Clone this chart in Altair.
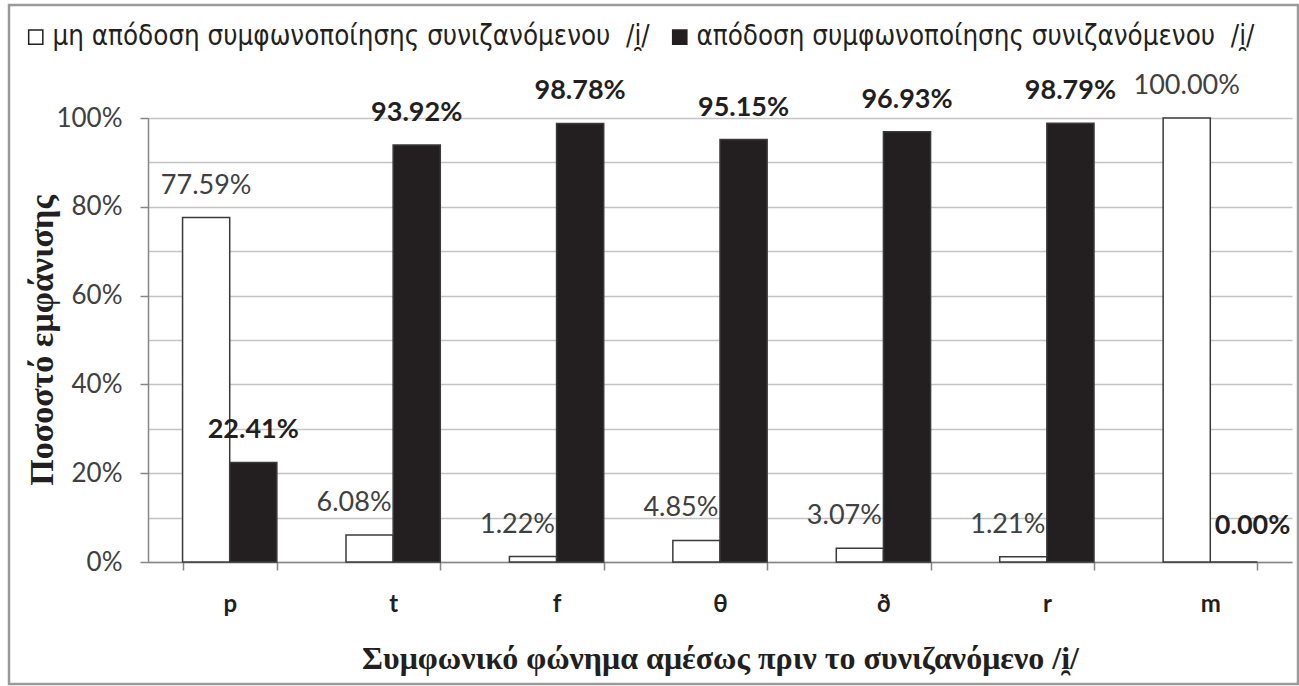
import altair as alt
import pandas as pd

# Consonant immediately before the synizesis /i̯/
categories = ["p", "t", "f", "θ", "ð", "r", "m"]

series_names = [
    "μη απόδοση συμφωνοποίησης συνιζανόμενου\u00a0 /i̯/",
    "απόδοση συμφωνοποίησης συνιζανόμενου\u00a0 /i̯/",
]

# Percentages of occurrence per consonant
not_realised = [77.59, 6.08, 1.22, 4.85, 3.07, 1.21, 100.00]
realised = [22.41, 93.92, 98.78, 95.15, 96.93, 98.79, 0.00]

y_ticks = [i / 10 for i in range(11)]

rows = []
for c, a, b in zip(categories, not_realised, realised):
    rows.append({"cat": c, "series": series_names[0], "value": a / 100})
    rows.append({"cat": c, "series": series_names[1], "value": b / 100})
df = pd.DataFrame(rows)

LABEL_FONT = "Lato"
TITLE_FONT = "Liberation Serif"
LEGEND_FONT = "Liberation Sans Narrow, DejaVu Sans Condensed, sans-serif"
AXIS_GREY = "#868686"
GRID_GREY = "#c4c4c4"
DARK = "#231f20"

x_enc = alt.X(
    "cat:N",
    sort=categories,
    scale=alt.Scale(paddingInner=0.423, paddingOuter=0.2115),
    axis=alt.Axis(
        title="Συμφωνικό φώνημα αμέσως πριν το συνιζανόμενο /i̯/",
        titleFont=TITLE_FONT,
        titleFontSize=32,
        titleFontWeight="bold",
        titleColor=DARK,
        titlePadding=27,
        labelFont=LABEL_FONT,
        labelFontSize=24,
        labelFontWeight="bold",
        labelColor=DARK,
        labelPadding=22,
        labelAngle=0,
        tickBand="extent",
        tickSize=8,
        tickColor=AXIS_GREY,
        tickWidth=1.5,
        domainColor=AXIS_GREY,
        domainWidth=1.5,
        grid=False,
    ),
)
xoff_enc = alt.XOffset(
    "series:N", sort=series_names, scale=alt.Scale(paddingInner=0, paddingOuter=0)
)
y_enc = alt.Y(
    "value:Q",
    scale=alt.Scale(domain=[0, 1], nice=False),
    axis=alt.Axis(
        title="Ποσοστό εμφάνισης",
        titleFont=TITLE_FONT,
        titleFontSize=34,
        titleFontWeight="bold",
        titleColor=DARK,
        titlePadding=-4,
        values=y_ticks,
        labelExpr="round(datum.value * 10) % 2 == 0 ? format(datum.value, '.0%') : ''",
        labelFont=LABEL_FONT,
        labelFontSize=26,
        labelColor="#404040",
        labelPadding=18,
        tickSize=8,
        tickColor=AXIS_GREY,
        tickWidth=1.5,
        tickOpacity=alt.condition("round(datum.value * 10) % 2 == 0", alt.value(1), alt.value(0)),
        domainColor=AXIS_GREY,
        domainWidth=1.5,
        grid=True,
        gridColor=GRID_GREY,
        gridWidth=1.5,
    ),
)

base = alt.Chart(df)

bars = base.mark_bar(stroke="#3a3a3a", strokeWidth=1.5).encode(
    x=x_enc,
    xOffset=xoff_enc,
    y=y_enc,
    fill=alt.Fill(
        "series:N",
        sort=series_names,
        scale=alt.Scale(domain=series_names, range=["white", DARK]),
        legend=alt.Legend(
            title=None,
            orient="none",
            legendX=-126,
            legendY=-95,
            direction="horizontal",
            symbolType="square",
            symbolSize=200,
            symbolStrokeColor=DARK,
            symbolStrokeWidth=1.5,
            labelFont=LEGEND_FONT,
            labelFontSize=27.5,
            labelColor=DARK,
            labelLimit=1000,
            labelOffset=3,
            columnPadding=16,
        ),
    ),
)

txt_common = dict(x=alt.X("cat:N", sort=categories), xOffset=xoff_enc, y="value:Q",
                  text=alt.Text("value:Q", format=".2%"))

white_tall = base.transform_filter(
    alt.datum.series == series_names[0]
).transform_filter(alt.datum.value >= 0.5).mark_text(
    font=LABEL_FONT, fontSize=27, color="#404040", baseline="bottom", dy=-18
).encode(**txt_common)

white_small = base.transform_filter(
    alt.datum.series == series_names[0]
).transform_filter(alt.datum.value < 0.5).mark_text(
    font=LABEL_FONT, fontSize=27, color="#404040", baseline="bottom", align="right", dx=22, dy=-18
).encode(**txt_common)

black_pos = base.transform_filter(
    alt.datum.series == series_names[1]
).transform_filter(alt.datum.value > 0).mark_text(
    font=LABEL_FONT, fontSize=27, fontWeight="bold", color=DARK, baseline="bottom", dy=-18
).encode(**txt_common)

black_zero = base.transform_filter(
    alt.datum.series == series_names[1]
).transform_filter(alt.datum.value <= 0).mark_text(
    font=LABEL_FONT, fontSize=27, fontWeight="bold", color=DARK, baseline="bottom", align="left", dx=-19, dy=-22
).encode(**txt_common)

frame = alt.Chart(pd.DataFrame({"k": [0]})).mark_rect(
    fill=None, stroke="#9a9a9a", strokeWidth=2.5
).encode(
    x=alt.value(-139), x2=alt.value(1150), y=alt.value(-113), y2=alt.value(566)
)

chart = alt.layer(frame, bars, white_tall, white_small, black_pos, black_zero).properties(
    width=1144,
    height=444,
    autosize=alt.AutoSizeParams(type="none"),
    padding={"left": 148, "top": 118, "right": 7, "bottom": 124},
    background="white",
).configure_view(stroke=None)

chart.save("out.html", embed_options={"renderer": "svg", "actions": False})
